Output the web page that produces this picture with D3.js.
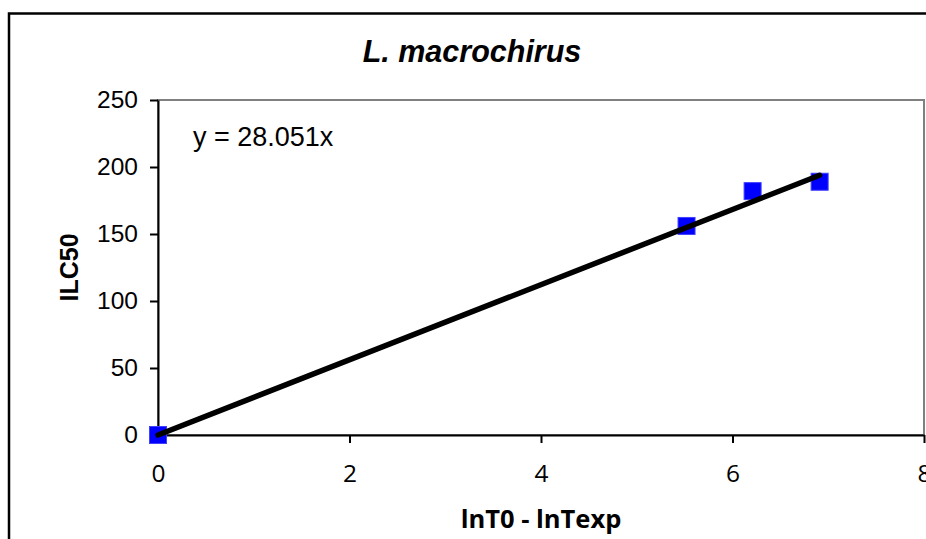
<!DOCTYPE html>
<html>
<head>
    <title>L. macrochirus</title>
    <script src="https://d3js.org/d3.v7.min.js"></script>
    <style>
        body {
            margin: 0;
            background-color: #fff;
        }
        .axis text {
            fill: #000;
            font-family: "Liberation Sans", Arial, sans-serif;
            font-size: 24.5px;
        }
        .axis path {
            stroke: #000;
            stroke-width: 2px;
        }
        .axis line {
            stroke: #000;
            stroke-width: 2px;
        }
    </style>
</head>
<body>
    <svg id="chart"></svg>
    <script>
        // data
        const xValues = [0, 5.52, 6.21, 6.91];
        const yValues = [0, 156, 182, 189];
        const slope = 28.051;
        const xTicks = [0, 2, 4, 6, 8];
        const yTicks = [0, 50, 100, 150, 200, 250];
        const title = 'L. macrochirus';
        const xTitle = 'lnT0 - lnTexp';
        const yTitle = 'ILC50';
        const equation = 'y = 28.051x';

        const W = 926, H = 539;
        const margin = { top: 100, right: 2, bottom: 104, left: 158 };
        const width = W - margin.left - margin.right;
        const height = H - margin.top - margin.bottom;

        const svg = d3.select('#chart')
            .attr('width', W)
            .attr('height', H);

        // outer chart frame (runs past the window on right/bottom)
        svg.append('rect')
            .attr('x', 9)
            .attr('y', 13.5)
            .attr('width', 930)
            .attr('height', 540)
            .attr('fill', 'none')
            .attr('stroke', '#000')
            .attr('stroke-width', 2.5);

        const g = svg.append('g')
            .attr('transform', `translate(${margin.left},${margin.top})`);

        const x = d3.scaleLinear().domain([0, 8]).range([0, width]);
        const y = d3.scaleLinear().domain([0, 250]).range([height, 0]);

        // plot area border (gray)
        g.append('rect')
            .attr('width', width)
            .attr('height', height)
            .attr('fill', 'none')
            .attr('stroke', '#808080')
            .attr('stroke-width', 2);

        g.append('g')
            .attr('class', 'axis')
            .attr('transform', `translate(0,${height})`)
            .call(d3.axisBottom(x).tickValues(xTicks).tickSize(8).tickSizeOuter(0).tickPadding(22))
            .selectAll('text')
            .style('font-family', '"Open Sans", sans-serif');

        g.append('g')
            .attr('class', 'axis')
            .call(d3.axisLeft(y).tickValues(yTicks).tickSize(8).tickSizeOuter(0).tickPadding(12));

        // data markers
        const pts = xValues.map((v, i) => ({ x: v, y: yValues[i] }));
        const ms = 17;
        g.selectAll('.pt')
            .data(pts)
            .enter()
            .append('rect')
            .attr('class', 'pt')
            .attr('x', d => x(d.x) - ms / 2)
            .attr('y', d => y(d.y) - ms / 2)
            .attr('width', ms)
            .attr('height', ms)
            .attr('fill', '#0000ff')
            .attr('stroke', '#4040ff')
            .attr('stroke-width', 1);

        // linear trendline through origin
        const xMax = d3.max(xValues);
        g.append('line')
            .attr('x1', x(0))
            .attr('y1', y(0))
            .attr('x2', x(xMax))
            .attr('y2', y(slope * xMax))
            .attr('stroke', '#000')
            .attr('stroke-width', 5.5)
            .attr('stroke-linecap', 'round');

        g.append('text')
            .attr('x', 35)
            .attr('y', 46)
            .style('font-family', '"Liberation Sans", Arial, sans-serif')
            .style('font-size', '27px')
            .text(equation);

        svg.append('text')
            .attr('x', 472)
            .attr('y', 62)
            .attr('text-anchor', 'middle')
            .style('font-family', '"Liberation Sans", Arial, sans-serif')
            .style('font-size', '30.5px')
            .style('font-weight', 'bold')
            .style('font-style', 'italic')
            .text(title);

        svg.append('text')
            .attr('x', margin.left + width / 2)
            .attr('y', 528)
            .attr('text-anchor', 'middle')
            .style('font-family', '"Open Sans", sans-serif')
            .style('font-size', '25.5px')
            .style('font-weight', 'bold')
            .text(xTitle);

        svg.append('text')
            .attr('transform', `translate(78,${margin.top + height / 2}) rotate(-90)`)
            .attr('text-anchor', 'middle')
            .style('font-family', '"Liberation Sans", Arial, sans-serif')
            .style('font-size', '25px')
            .style('font-weight', 'bold')
            .text(yTitle);
    </script>
</body>
</html>
